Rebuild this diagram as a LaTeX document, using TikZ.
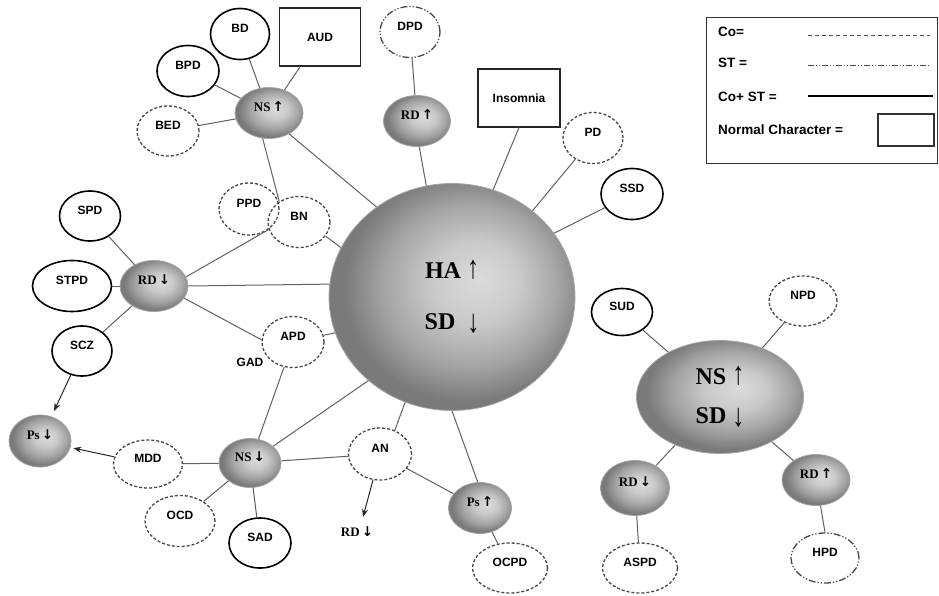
\documentclass[tikz,border=0pt]{standalone}
\usepackage{fontspec}
\setmainfont{Liberation Serif}
\newfontfamily\lsans{Liberation Sans}
\newfontfamily\arrf{DejaVu Sans}
\usetikzlibrary{shapes.geometric,arrows.meta}
\pgfdeclareradialshading{ndshade}{\pgfpoint{6bp}{4bp}}{color(0bp)=(black!14); color(9bp)=(black!21); color(18bp)=(black!36); color(25bp)=(black!52); color(50bp)=(black!52)}
\newcommand{\smup}{\,{\arrf\bfseries\fontsize{13.5}{15}\selectfont ↑}}
\newcommand{\smdn}{\,{\arrf\bfseries\fontsize{13.5}{15}\selectfont ↓}}
\newcommand{\bigup}{\scalebox{1}[1.35]{↑}}
\newcommand{\bigdn}{\raisebox{-0.3ex}{\scalebox{1}[1.35]{↓}}}
\begin{document}
\begin{tikzpicture}[x=1pt,y=-1pt,
  lbl/.style={font=\lsans\bfseries\fontsize{12}{14}\selectfont, inner sep=0pt},
  el/.style={ellipse, lbl, text height=8pt, text depth=11pt, minimum width=#1, minimum height=50pt},
  sol/.style={el=#1, draw=black, line width=1.6pt},
  das/.style={el=#1, draw=black!72, line width=1.3pt, dash pattern=on 3pt off 2pt},
  ddot/.style={el=#1, draw=black!72, line width=1.3pt, dash pattern=on 7pt off 2pt on 1.2pt off 2pt on 1.2pt off 2pt},
  shd/.style={ellipse, shade, shading=ndshade, draw=black!35, line width=0.8pt, minimum width=#1, minimum height=51pt, font=\bfseries\fontsize{13}{15}\selectfont, text height=8pt, text depth=11pt, inner sep=0pt},
  boxn/.style={rectangle, draw=black!85, line width=1.2pt, minimum width=81pt, minimum height=58pt, lbl, text height=8.6pt, text depth=0pt},
  link/.style={draw=black!62, line width=1pt},
  arr/.style={draw=black!85, line width=1pt, -{Stealth[length=8pt,width=6pt]}},
  legt/.style={font=\lsans\bfseries\fontsize{13.5}{15}\selectfont, inner sep=0pt, anchor=west}
]
\useasboundingbox (0,0) rectangle (939,595);

% central nodes
\node[ellipse, shade, shading=ndshade, draw=black!35, line width=0.8pt, minimum width=246pt, minimum height=227pt, align=center, font=\bfseries\fontsize{24}{51}\selectfont] (ha) at (452,297) {HA \bigup\\SD \ \bigdn};
\node[ellipse, shade, shading=ndshade, draw=black!35, line width=0.8pt, minimum width=167pt, minimum height=113pt, align=center, font=\bfseries\fontsize{24}{39}\selectfont] (e2) at (720,397) {NS \bigup\\SD \bigdn};

% shaded small nodes
\node[shd=68pt] (nsu) at (269,113) {NS\smup};
\node[shd=67pt] (rdu) at (417,121) {RD\smup};
\node[shd=68pt] (rdd) at (154,286) {RD\smdn};
\node[shd=62pt, minimum height=49pt] (nsd) at (250,463) {NS\smdn};
\node[shd=62pt, minimum height=52pt] (psd) at (40,441) {Ps\smdn};
\node[shd=63pt] (psu) at (480,508) {Ps\smup};
\node[shd=69pt, minimum height=55pt] (rdd2) at (635,488) {RD\smdn};
\node[shd=68pt] (rdu2) at (816,480) {RD\smup};

% outline nodes
\node[sol=59pt, minimum height=51pt] (bd) at (240,34) {BD};
\node[sol=62pt, minimum height=51pt] (bpd) at (188,71) {BPD};
\node[das=62pt] (bed) at (168,131) {BED};
\node[boxn] (aud) at (320,37) {AUD};
\node[ddot=60pt, minimum height=51pt] (dpd) at (410,32) {DPD};
\node[boxn, minimum width=82pt] (ins) at (519,98) {Insomnia};
\node[das=60pt, minimum height=51pt] (pd) at (593,138) {PD};
\node[sol=62pt, minimum height=51pt] (ssd) at (632,194) {SSD};
\node[das=60pt, minimum height=52pt] (ppd) at (249,209) {PPD};
\node[das=62pt, minimum height=51pt] (bn) at (299,222) {BN};
\node[sol=61pt] (spd) at (90,216) {SPD};
\node[sol=79pt, minimum height=51pt] (stpd) at (72,286) {STPD};
\node[sol=60pt] (scz) at (82,351) {SCZ};
\node[das=62pt, minimum height=51pt] (apd) at (293,342) {APD};
\node[das=63pt, minimum height=52pt] (an) at (380,454) {AN};
\node[das=69pt, minimum height=48pt] (mdd) at (148,464) {MDD};
\node[das=70pt, minimum height=51pt] (ocd) at (180,521) {OCD};
\node[sol=62pt] (sad) at (260,543) {SAD};
\node[das=75pt] (ocpd) at (510,568) {OCPD};
\node[sol=61pt, minimum height=47pt] (sud) at (622,312) {SUD};
\node[das=68pt] (npd) at (803,301) {NPD};
\node[das=75pt] (aspd) at (640,568) {ASPD};
\node[ddot=68pt] (hpd) at (825,558) {HPD};

% free texts
\node[lbl] (gad) at (250,362) {GAD};
\node[font=\bfseries\fontsize{13}{15}\selectfont, inner sep=0pt] (rdtxt) at (357,532) {RD\smdn};
\coordinate (rdtip) at (363,517);

% connectors
\draw[link] (nsu) -- (bd);
\draw[link] (nsu) -- (bpd);
\draw[link] (nsu) -- (bed);
\draw[link] (nsu) -- (aud);
\draw[link] (nsu.256) -- (bn.134);
\draw[link] (nsu.-46) -- (ha.130);
\draw[link] (bn.-28) -- (ha.156);
\draw[link] (rdd.16) -- (ppd.-48);
\draw[link] (rdd.east) -- (ha.174);
\draw[link] (rdd.-22) -- (apd.176);
\draw[link] (spd) -- (rdd);
\draw[link] (stpd) -- (rdd);
\draw[link] (scz) -- (rdd);
\draw[arr, shorten >=6pt] (scz) -- (psd);
\draw[arr, shorten >=3pt] (mdd) -- (psd);
\draw[link] (nsd) -- (mdd);
\draw[link] (nsd) -- (ocd);
\draw[link] (nsd) -- (sad);
\draw[link] (nsd) -- (apd);
\draw[link] (nsd.36) -- (ha.225);
\draw[link] (nsd) -- (an);
\draw[link] (ha.246) -- (an.58);
\draw[arr] (an) -- (rdtip);
\draw[link] (an) -- (psu);
\draw[link] (ha.270) -- (psu.95);
\draw[link] (psu) -- (ocpd);
\draw[link] (rdu) -- (dpd);
\draw[link] (rdu.-85) -- (ha.103);
\draw[link] (ins.south) -- (ha.69);
\draw[link] (pd) -- (ha.47);
\draw[link] (ssd) -- (ha.32);
\draw[link] (apd) -- (ha.197);
\draw[link] (sud) -- (e2);
\draw[link] (npd) -- (e2);
\draw[link] (e2) -- (rdd2);
\draw[link] (e2) -- (rdu2);
\draw[link] (rdd2) -- (aspd);
\draw[link] (rdu2.-80) -- (hpd.north);

% legend
\node[draw=black!80, line width=1.2pt, minimum width=231pt, minimum height=146pt, inner sep=0pt, anchor=north west] (leg) at (706,17) {};
\node[legt] (lco) at (718,32) {Co=};
\node[legt] (lst) at (718,63) {ST =};
\node[legt] (lcs) at (718,97) {Co+ ST =};
\node[legt] (lnc) at (718,130) {Normal Character =};
\coordinate (c1a) at (808,35); \coordinate (c1b) at (930,35);
\coordinate (c2a) at (808,65); \coordinate (c2b) at (930,65);
\coordinate (c3a) at (808,96); \coordinate (c3b) at (933,96);
\draw[black!70, line width=1pt, dash pattern=on 4pt off 3pt] (c1a) -- (c1b);
\draw[black!70, line width=1pt, dash pattern=on 6pt off 2pt on 1pt off 2pt on 1pt off 2pt] (c2a) -- (c2b);
\draw[black, line width=1.6pt] (c3a) -- (c3b);
\node[draw=black!80, line width=1.1pt, minimum width=56pt, minimum height=32pt, inner sep=0pt] (nbox) at (906,130) {};
\end{tikzpicture}
\end{document}
